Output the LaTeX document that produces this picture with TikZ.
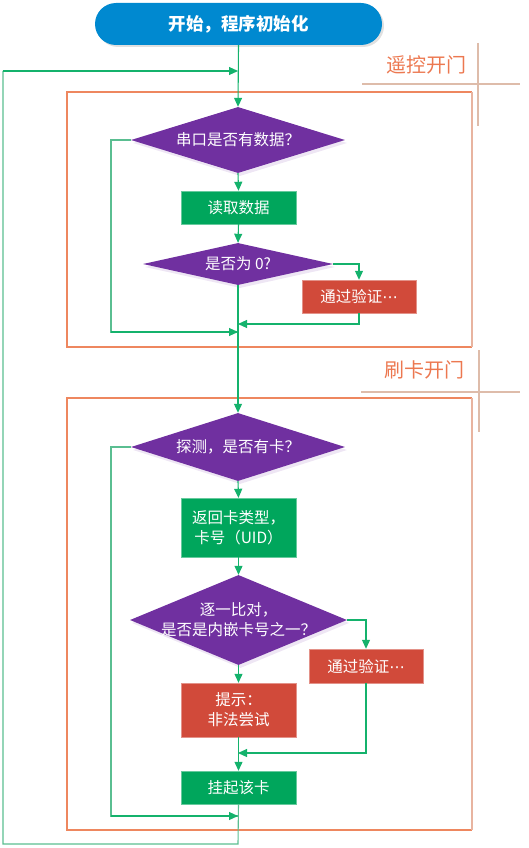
\documentclass[tikz,border=0pt]{standalone}
\usepackage{fontspec}
\setmainfont{Noto Sans CJK SC}
\newfontfamily\dotsfont{DejaVu Sans}
\usetikzlibrary{arrows.meta,shapes.geometric,shadows}

\definecolor{startblue}{RGB}{0,137,208}
\definecolor{decpurple}{RGB}{112,48,160}
\definecolor{procgreen}{RGB}{0,166,92}
\definecolor{alertred}{RGB}{209,74,58}
\definecolor{flowgreen}{RGB}{20,178,108}
\definecolor{loopgreen}{RGB}{90,190,145}
\definecolor{frameorange}{RGB}{238,135,95}
\definecolor{framelight}{RGB}{232,180,160}
\definecolor{crossline}{RGB}{222,188,170}
\definecolor{titleorange}{RGB}{236,120,80}

\newcommand{\middots}{{\dotsfont ⋯}}

\tikzset{
  x=1pt, y=-1pt,
  every node/.style={font=\fontsize{15.5}{20}\selectfont, text=white, align=center, inner sep=0pt},
  startbox/.style={rounded corners=21pt, fill=startblue, minimum width=287pt, minimum height=42pt,
    font=\fontsize{17.5}{20}\selectfont\bfseries,
    drop shadow={shadow xshift=2pt, shadow yshift=-2pt, fill=black!12, opacity=1}},
  % the diamond carries its text as a centred label so that its size is set by the minimum sizes alone
  decision/.style 2 args={diamond, fill=decpurple, draw=none, inner sep=0pt,
    label={[text=white]center:#2},
    drop shadow={shadow xshift=2pt, shadow yshift=-3pt, fill=decpurple!12, opacity=1}},
  procbox/.style={rectangle, fill=procgreen, draw=procgreen!60, minimum width=115pt},
  alertbox/.style={rectangle, fill=alertred, draw=alertred!60, minimum width=114pt},
  flow/.style={draw=flowgreen, line width=1.1pt, -{Triangle[length=9pt,width=8pt]}},
  loopline/.style={draw=loopgreen, line width=1.1pt},
  frame/.style={draw=frameorange, line width=1.1pt},
  cross/.style={draw=crossline, line width=1.6pt},
  sectiontitle/.style={text=titleorange, font=\fontsize{20}{23}\selectfont}
}

\begin{document}
\begin{tikzpicture}
\useasboundingbox (0,0) rectangle (529,848);

% section frames and their titles
\draw[frame] (472,92) -- (67,92) -- (67,347) -- (472,347);
\draw[draw=framelight, line width=1.1pt] (472,92) -- (472,347);
\draw[cross] (362,84) -- (520,84);
\draw[cross] (478,43) -- (478,126);
\node[sectiontitle] (title1) at (426,65) {遥控开门};

\draw[frame] (472,398) -- (67,398) -- (67,830) -- (472,830);
\draw[draw=framelight, line width=1.1pt] (472,398) -- (472,830);
\draw[cross] (361,392) -- (520,392);
\draw[cross] (479,350) -- (479,432);
\node[sectiontitle] (title2) at (424,370) {刷卡开门};

% nodes
\node[startbox] (start) at (238.5,24) {开始，程序初始化};

\node[decision={}{串口是否有数据？}, minimum width=214pt, minimum height=66pt] (d1) at (238,140) {};
\node[procbox, minimum height=33pt] (read) at (238.5,207.5) {读取数据};
\node[decision={}{是否为 0?}, minimum width=190pt, minimum height=42pt] (d2) at (238,264) {};
\node[alertbox, minimum height=33pt] (pass1) at (359,296.5) {通过验证\middots};

\node[decision={}{探测，是否有卡？}, minimum width=214pt, minimum height=68pt] (d3) at (238,447) {};
\node[procbox, minimum height=59pt] (ret) at (238.5,527.5) {返回卡类型，\\卡号（UID）};
\node[decision={}{逐一比对，\\是否是内嵌卡号之一？}, minimum width=217pt, minimum height=90pt] (d4) at (238.5,620) {};
\node[alertbox, minimum height=34pt] (pass2) at (366,666) {通过验证\middots};
\node[alertbox, minimum width=115pt, minimum height=54pt] (warn) at (238.5,710) {提示：\\非法尝试};
\node[procbox, minimum height=33pt] (hang) at (238.5,787.5) {挂起该卡};

% junction points on the main line
\coordinate (top) at (238,71);
\coordinate (j1) at (238,332);
\coordinate (j2) at (238,324);
\coordinate (j3) at (238,816);
\coordinate (j4) at (238,753);
\coordinate (bottom) at (238,844);
\coordinate (farleft) at (3,844);
\coordinate (farlefttop) at (3,71);
\coordinate (l1) at (111,140);
\coordinate (l3) at (111,447);

% outer loop
\draw[loopline] (hang.south) -- (bottom) -- (farleft) -- (farlefttop);
\draw[flow] (farlefttop) -- (top);

% remote control section
\draw[flow] (start.south) -- (d1.north);
\draw[loopline] (d1.west) -- (l1) |- (j1);
\draw[flow] (l1 |- j1) -- (j1);
\draw[flow] (d1.south) -- (read.north);
\draw[flow] (read.south) -- (d2.north);
\draw[flow] (d2.east) -| (pass1.north);
\draw[flow] (pass1.south) |- (j2);
\draw[flow] (d2.south) -- (d3.north);

% card section
\draw[loopline] (d3.west) -- (l3) |- (j3);
\draw[flow] (l3 |- j3) -- (j3);
\draw[flow] (d3.south) -- (ret.north);
\draw[flow] (ret.south) -- (d4.north);
\draw[flow] (d4.east) -| (pass2.north);
\draw[flow] (d4.south) -- (warn.north);
\draw[flow] (pass2.south) |- (j4);
\draw[flow] (warn.south) -- (hang.north);
\end{tikzpicture}
\end{document}
